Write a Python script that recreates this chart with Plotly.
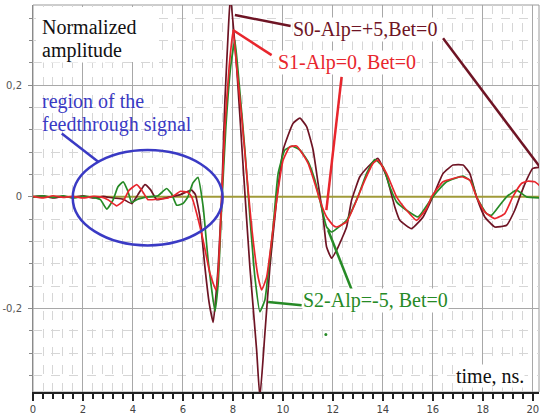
import plotly.graph_objects as go

# ---------------- data ----------------
t_s0 = [0, 0.4, 0.8, 1.2, 1.6, 2.0, 2.4, 2.8, 3.2, 3.6, 3.95, 4.2, 4.48, 4.7, 4.95, 5.3, 5.6, 5.9, 6.2, 6.35,
        6.5, 6.68, 6.88, 7.05, 7.21, 7.41, 7.55, 7.68, 7.81, 7.9, 8.15, 8.41, 8.68, 8.95, 9.08, 9.28, 9.48, 9.75,
        10.01, 10.41, 10.68, 10.95, 11.21, 11.41, 11.61, 11.75, 11.95, 12.21, 12.55, 12.75, 13.08, 13.41, 13.8,
        14.15, 14.48, 14.68, 15.15, 15.61, 16.0, 16.41, 16.81, 17.21, 17.48, 17.75, 18.08, 18.48, 18.95, 19.28,
        19.48, 19.75, 20.0, 20.28]
y_s0 = [0.0, 0.002, -0.002, 0.001, -0.001, 0.002, -0.002, 0.001, -0.002, -0.004, -0.012, 0.004, 0.022, 0.013,
        -0.005, -0.002, 0.001, 0.004, 0.01, 0.012, 0.004, -0.036, -0.126, -0.19, -0.225, -0.126, 0.0, 0.173, 0.293,
        0.36, 0.233, 0.054, -0.126, -0.275, -0.36, -0.245, -0.126, -0.006, 0.084, 0.132, 0.141, 0.126, 0.084,
        0.024, -0.036, -0.09, -0.11, -0.09, -0.054, -0.006, 0.036, 0.054, 0.069, 0.036, -0.018, -0.042, -0.057,
        -0.036, 0.0, 0.042, 0.057, 0.057, 0.042, 0.0, -0.036, -0.054, -0.051, -0.024, 0.0, 0.03, 0.051, 0.053]

t_s1 = [0, 0.4, 0.8, 1.2, 1.6, 2.0, 2.4, 2.7, 3.0, 3.35, 3.6, 3.85, 4.15, 4.35, 4.6, 5.0, 5.4, 5.7, 5.9, 6.2,
        6.35, 6.48, 6.81, 7.08, 7.32, 7.41, 7.55, 7.68, 7.85, 8.01, 8.15, 8.35, 8.55, 8.75, 9.01, 9.15, 9.35, 9.55,
        9.75, 10.01, 10.28, 10.55, 10.68, 11.01, 11.28, 11.48, 11.75, 12.01, 12.15, 12.55, 12.95, 13.28, 13.61,
        13.8, 14.15, 14.55, 14.95, 15.35, 15.75, 15.95, 16.41, 17.15, 17.48, 17.75, 18.08, 18.48, 18.88, 19.2,
        19.55, 19.8, 20.08, 20.28]
y_s1 = [0.001, -0.002, 0.002, -0.001, 0.001, -0.002, 0.001, 0.0, -0.005, -0.016, -0.008, 0.012, 0.022, 0.012,
        -0.005, -0.004, -0.002, 0.004, 0.01, 0.008, 0.0, -0.018, -0.078, -0.137, -0.167, -0.137, -0.006, 0.126,
        0.233, 0.299, 0.233, 0.144, 0.042, -0.054, -0.144, -0.167, -0.144, -0.078, -0.006, 0.066, 0.09, 0.091,
        0.084, 0.06, 0.024, -0.006, -0.036, -0.051, -0.054, -0.045, -0.006, 0.03, 0.06, 0.066, 0.042, 0.0,
        -0.024, -0.042, -0.021, 0.0, 0.027, 0.036, 0.03, 0.0, -0.027, -0.039, -0.03, 0.0, 0.024, 0.028, 0.027, 0.02]

t_s2 = [0, 0.4, 0.8, 1.2, 1.6, 2.0, 2.4, 2.7, 2.95, 3.2, 3.4, 3.61, 3.8, 3.95, 4.2, 4.6, 5.0, 5.35, 5.55, 5.75,
        6.0, 6.2, 6.4, 6.6, 6.81, 7.01, 7.28, 7.41, 7.55, 7.72, 7.91, 8.08, 8.25, 8.48, 8.68, 8.88, 9.08, 9.28,
        9.41, 9.61, 9.81, 10.08, 10.38, 10.68, 11.01, 11.28, 11.48, 11.75, 11.95, 12.55, 13.0, 13.35, 13.68,
        14.01, 14.28, 14.55, 14.95, 15.41, 16.0, 16.55, 17.21, 17.55, 17.75, 18.15, 18.35, 18.68, 18.95, 19.35,
        19.75, 20.28]
y_s2 = [0.0, 0.002, -0.001, 0.002, -0.002, 0.001, -0.001, -0.005, -0.022, -0.006, 0.018, 0.027, 0.01, -0.01,
        -0.004, 0.0, 0.002, 0.015, 0.005, -0.015, -0.012, 0.0, 0.025, 0.035, -0.018, -0.114, -0.205, -0.155,
        -0.018, 0.126, 0.233, 0.281, 0.203, 0.084, -0.036, -0.144, -0.206, -0.185, -0.137, -0.054, 0.042, 0.084,
        0.091, 0.084, 0.063, 0.03, -0.006, -0.054, -0.063, -0.042, 0.0, 0.042, 0.067, 0.054, 0.018, -0.009,
        -0.024, -0.036, 0.0, 0.027, 0.037, 0.027, 0.0, -0.03, -0.033, -0.015, 0.0, 0.012, 0.0, -0.002]

x_tick_vals = [0, 2, 4, 6, 8, 10, 12, 14, 16, 18, 20]
x_tick_text = ["0", "2", "4", "6", "8", "10", "12", "14", "16", "18", "20"]
y_tick_vals = [-0.2, 0, 0.2]
y_tick_text = ["-0,2", "0", "0,2"]

series_names = ["S0-Alp=+5,Bet=0", "S1-Alp=0, Bet=0", "S2-Alp=-5, Bet=0"]

X_RANGE = [0, 20.25]
Y_RANGE = [-0.3498, 0.3439]

# ---------------- styles ----------------
C_S0 = "#6e1424"
C_S1 = "#e8262d"
C_S2 = "#268a26"
C_BLUE = "#3a3ac4"
C_OLIVE = "#a09a38"
SERIF = "Liberation Serif, Times New Roman, serif"

fig = go.Figure()

# zero reference line (olive), drawn as the lowest trace
fig.add_trace(go.Scatter(x=X_RANGE, y=[0, 0], mode="lines", line=dict(color=C_OLIVE, width=2),
                         showlegend=False, hoverinfo="skip"))

for t, y, c, n in [(t_s0, y_s0, C_S0, series_names[0]),
                   (t_s2, y_s2, C_S2, series_names[2]),
                   (t_s1, y_s1, C_S1, series_names[1])]:
    fig.add_trace(go.Scatter(x=t, y=y, mode="lines", name=n,
                             line=dict(color=c, width=1.7, shape="spline", smoothing=0.4),
                             showlegend=False, hoverinfo="skip"))

grid_major = "#a8a8a8"
grid_minor = "#d6d6d6"

fig.update_xaxes(range=X_RANGE, tickvals=x_tick_vals, ticktext=x_tick_text, automargin=False,
                 showgrid=True, gridcolor=grid_major, gridwidth=1, zeroline=False,
                 showline=True, linecolor="#222222", linewidth=2,
                 ticks="outside", ticklen=7, tickcolor="#222222", tickwidth=1.5,
                 ticklabelstandoff=0,
                 tickfont=dict(family="DejaVu Sans, sans-serif", size=10, color="#444444"),
                 minor=dict(dtick=0.4, tick0=0, showgrid=True, gridcolor=grid_minor, griddash="dash",
                            gridwidth=1, ticks="outside", ticklen=5, tickcolor="#222222", tickwidth=1.5))
fig.update_yaxes(range=Y_RANGE, tickvals=y_tick_vals, ticktext=y_tick_text, automargin=False,
                 showgrid=True, gridcolor=grid_major, gridwidth=1, zeroline=False,
                 showline=True, linecolor="#8a8a8a", linewidth=1,
                 ticks="outside", ticklen=4, tickcolor="#8a8a8a",
                 ticklabelstandoff=4,
                 tickfont=dict(family="DejaVu Sans, sans-serif", size=10, color="#555555"),
                 minor=dict(dtick=0.04, tick0=0, showgrid=True, gridcolor=grid_minor, griddash="dash",
                            gridwidth=1, ticks="outside", ticklen=3, tickcolor="#8a8a8a"))

# plot border (top/right)
fig.add_shape(type="rect", xref="paper", yref="paper", x0=0, x1=1, y0=0, y1=1,
              line=dict(color="#9a9a9a", width=1), layer="below")

# white box behind "Normalized amplitude"
fig.add_shape(type="rect", xref="x", yref="y", x0=0.12, x1=4.96, y0=0.2416, y1=0.3403,
              fillcolor="white", line=dict(width=0), layer="above")

# feedthrough ellipse and pointer
fig.add_shape(type="circle", xref="x", yref="y", x0=1.59, x1=7.59, y0=-0.087, y1=0.084,
              line=dict(color=C_BLUE, width=2.5), layer="above")
fig.add_shape(type="line", xref="x", yref="y", x0=1.15, y0=0.1137, x1=2.61, y1=0.0628,
              line=dict(color=C_BLUE, width=2.5), layer="above")

# pointer lines for labels
pointer_lines = [
    (C_S0, 8.08, 0.3259, 10.31, 0.3062),
    (C_S0, 16.41, 0.2841, 20.28, 0.0538),
    (C_S1, 8.0, 0.299, 9.55, 0.254),
    (C_S1, 12.35, 0.2152, 11.74, -0.0239),
    (C_S2, 9.41, -0.1883, 10.75, -0.1943),
    (C_S2, 12.75, -0.166, 11.81, -0.0597),
]
for c, xa, ya, xb, yb in pointer_lines:
    fig.add_shape(type="line", xref="x", yref="y", x0=xa, y0=ya, x1=xb, y1=yb,
                  line=dict(color=c, width=2.5), layer="above")

# small stray green dot
fig.add_shape(type="circle", xref="x", yref="y", x0=11.66, x1=11.78, y0=-0.2495, y1=-0.2440,
              fillcolor=C_S2, line=dict(width=0), layer="above")

def label(text, x, y, color, bg=True):
    fig.add_annotation(x=x, y=y, xref="x", yref="y", text=text, showarrow=False,
                       xanchor="left", yanchor="middle",
                       font=dict(family=SERIF, size=20, color=color),
                       bgcolor="white" if bg else "rgba(0,0,0,0)", borderpad=0)

label("Normalized", 0.32, 0.3044, "#111111")
label("amplitude", 0.32, 0.2631, "#111111")
label("region of the", 0.32, 0.1717, C_BLUE, bg=False)
label("feedthrough signal", 0.32, 0.1304, C_BLUE, bg=False)
label(series_names[0], 10.35, 0.3008, C_S0)
label(series_names[1], 9.75, 0.2416, C_S1)
label(series_names[2], 10.75, -0.1853, C_S2)
label("time, ns.", 16.88, -0.3216, "#111111")

fig.update_layout(width=543, height=416, margin=dict(l=33, r=4, t=5, b=24),
                  paper_bgcolor="white", plot_bgcolor="white", showlegend=False)

fig.write_html("out.html", config={"displayModeBar": False},
               post_script="document.body.style.margin='0';")
